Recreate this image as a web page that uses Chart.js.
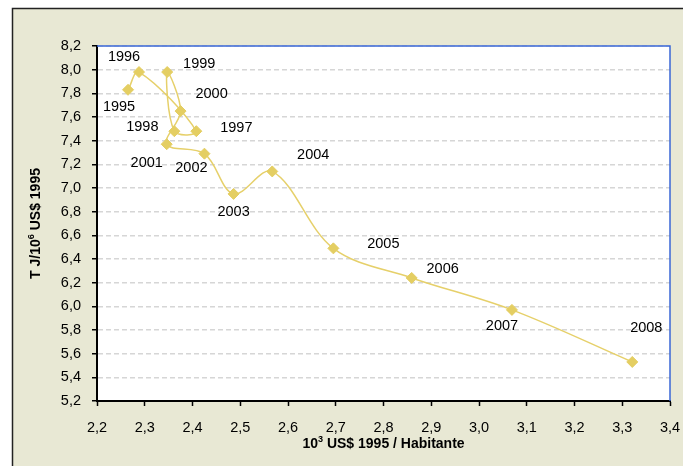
<!DOCTYPE html>
<html>
<head>
<meta charset="utf-8">
<script src="https://cdn.jsdelivr.net/npm/chart.js@4/dist/chart.umd.min.js"></script>
<style>
  html, body { margin: 0; padding: 0; background: #fff; }
  #wrap { width: 683px; height: 466px; }
</style>
</head>
<body>
<div id="wrap"><canvas id="chart" width="683" height="466"></canvas></div>
<script>
// data
const years = ['1995', '1996', '1997', '1998', '1999', '2000', '2001',
               '2002', '2003', '2004', '2005', '2006', '2007', '2008'];
const gdpPerCapita = [2.265, 2.288, 2.408, 2.362, 2.347, 2.375, 2.346,
                      2.425, 2.486, 2.567, 2.695, 2.859, 3.069, 3.321];
const intensity = [7.83, 7.98, 7.48, 7.48, 7.98, 7.65, 7.37,
                   7.29, 6.95, 7.14, 6.49, 6.24, 5.97, 5.53];
const xTicks = [2.2, 2.3, 2.4, 2.5, 2.6, 2.7, 2.8, 2.9, 3.0, 3.1, 3.2, 3.3, 3.4];
const yTicks = [5.2, 5.4, 5.6, 5.8, 6.0, 6.2, 6.4, 6.6, 6.8, 7.0, 7.2, 7.4, 7.6, 7.8, 8.0, 8.2];

// where each year label sits relative to its marker (dx, dy)
const labelOffsets = [[-9, 17], [-15, -15], [40, -3], [-32, -4], [32, -8], [31, -17], [-20, 19],
                      [-13, 14], [0, 18], [41, -16], [50, -4], [31, -9], [-10, 16], [14, -34]];

const FONT = "'Liberation Sans', Arial, sans-serif";
const fmt = v => Number(v).toFixed(1).replace('.', ',');

function drawSup(ctx, parts, cx, cy, size) {
    let total = 0;
    parts.forEach(p => {
        ctx.font = 'bold ' + (p.sup ? size * 0.65 : size) + 'px ' + FONT;
        p.w = ctx.measureText(p.t).width;
        total += p.w;
    });
    let x = cx - total / 2;
    ctx.textBaseline = 'middle';
    ctx.textAlign = 'left';
    parts.forEach(p => {
        ctx.font = 'bold ' + (p.sup ? size * 0.65 : size) + 'px ' + FONT;
        ctx.fillText(p.t, x, p.sup ? cy - size * 0.35 : cy);
        x += p.w;
    });
}

const frame = {
    id: 'frame',
    beforeDraw(chart) {
        const ctx = chart.ctx;
        const a = chart.chartArea;
        ctx.save();
        ctx.fillStyle = '#fff';
        ctx.fillRect(0, 0, chart.width, chart.height);
        ctx.fillStyle = '#E8E8D4';
        ctx.fillRect(12, 8, chart.width - 12, chart.height - 8);
        ctx.strokeStyle = '#222';
        ctx.lineWidth = 1.5;
        ctx.beginPath();
        ctx.moveTo(12.5, chart.height);
        ctx.lineTo(12.5, 8.5);
        ctx.lineTo(chart.width, 8.5);
        ctx.stroke();
        ctx.fillStyle = '#fff';
        ctx.fillRect(a.left, a.top, a.right - a.left, a.bottom - a.top);
        ctx.restore();
    },
    beforeDatasetsDraw(chart) {
        const ctx = chart.ctx;
        const a = chart.chartArea;
        ctx.save();
        ctx.strokeStyle = '#3A67D6';
        ctx.lineWidth = 1.5;
        ctx.beginPath();
        ctx.moveTo(a.left, a.top);
        ctx.lineTo(a.right, a.top);
        ctx.lineTo(a.right, a.bottom);
        ctx.stroke();
        ctx.restore();
    },
    afterDraw(chart) {
        const ctx = chart.ctx;
        const a = chart.chartArea;
        ctx.save();
        ctx.fillStyle = '#000';
        drawSup(ctx, [{t: '10'}, {t: '3', sup: true}, {t: ' US$ 1995 / Habitante'}],
                (a.left + a.right) / 2, 444, 14);
        ctx.translate(36, (a.top + a.bottom) / 2);
        ctx.rotate(-Math.PI / 2);
        drawSup(ctx, [{t: 'T J/10'}, {t: '6', sup: true}, {t: ' US$ 1995'}], 0, 0, 14);
        ctx.restore();
    }
};

const yearLabels = {
    id: 'yearLabels',
    afterDatasetsDraw(chart) {
        const ctx = chart.ctx;
        const pts = chart.getDatasetMeta(0).data;
        ctx.save();
        ctx.font = '14.5px ' + FONT;
        ctx.fillStyle = '#000';
        ctx.textAlign = 'center';
        ctx.textBaseline = 'middle';
        pts.forEach((p, i) => {
            const o = labelOffsets[i];
            ctx.fillText(years[i], p.x + o[0], p.y + o[1]);
        });
        ctx.restore();
    }
};

let points = gdpPerCapita.map((x, i) => ({x: x, y: intensity[i]}));

let ctx = document.getElementById('chart').getContext('2d');
let ch = new Chart(ctx, {
    type: 'scatter',
    data: {
        datasets: [{
            data: points,
            showLine: true,
            tension: 0.35,
            borderColor: '#E6D06A',
            borderWidth: 1.5,
            pointStyle: 'rectRot',
            pointRadius: 5.5,
            pointBackgroundColor: '#E4CE62',
            pointBorderColor: '#E4CE62',
            pointBorderWidth: 1
        }]
    },
    options: {
        responsive: false,
        animation: false,
        layout: { padding: { left: 0, top: 46, right: 13, bottom: 0 } },
        plugins: {
            legend: { display: false },
            tooltip: { enabled: false }
        },
        scales: {
            x: {
                type: 'linear',
                min: 2.2,
                max: 3.4,
                afterBuildTicks: s => { s.ticks = xTicks.map(v => ({value: v})); },
                afterFit: s => {
                    s.height = 65;
                    s.paddingLeft = 0;
                    s.paddingRight = 0;
                },
                ticks: {
                    callback: v => fmt(v),
                    color: '#000',
                    font: { family: FONT, size: 14.5 },
                    padding: 13,
                    maxRotation: 0,
                    autoSkip: false
                },
                grid: {
                    drawOnChartArea: false,
                    drawTicks: true,
                    tickLength: 5,
                    tickColor: '#000',
                    tickWidth: 1.5
                },
                border: { color: '#000', width: 2 }
            },
            y: {
                type: 'linear',
                min: 5.2,
                max: 8.2,
                afterBuildTicks: s => { s.ticks = yTicks.map(v => ({value: v})); },
                afterFit: s => { s.width = 97; },
                ticks: {
                    callback: v => fmt(v),
                    color: '#000',
                    font: { family: FONT, size: 14.5 },
                    padding: 11,
                    autoSkip: false
                },
                grid: {
                    color: '#D6D6D6',
                    lineWidth: 1.5,
                    tickLength: 5,
                    tickColor: '#000',
                    tickWidth: 1.5,
                    tickBorderDash: []
                },
                border: { color: '#000', width: 2, dash: [5, 3] }
            }
        }
    },
    plugins: [frame, yearLabels]
});
</script>
</body>
</html>
